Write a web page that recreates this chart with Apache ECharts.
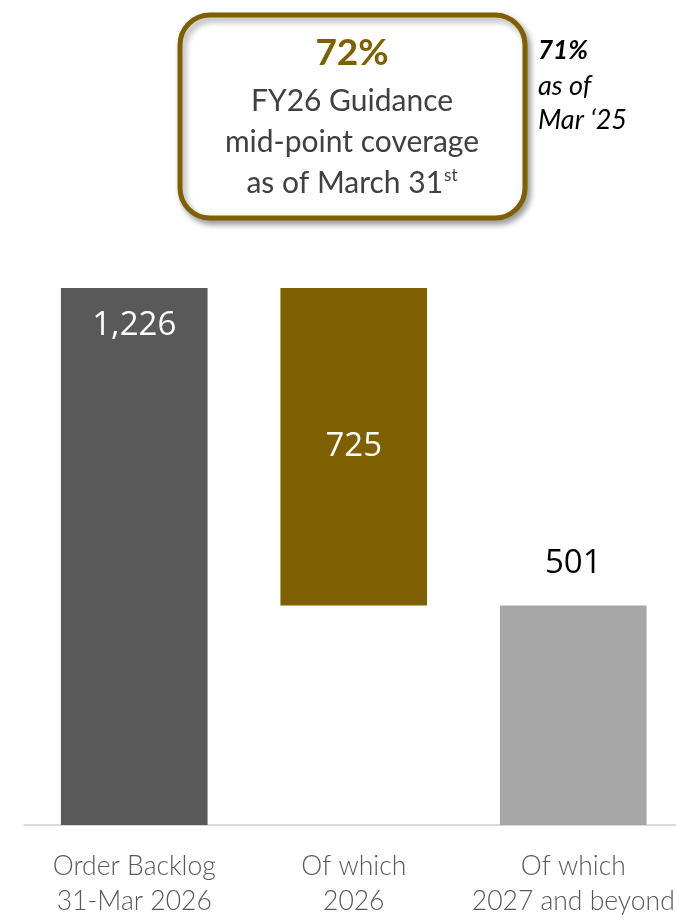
<!DOCTYPE html>
<html>
<head>
<meta charset="utf-8">
<style>
  html, body { margin: 0; padding: 0; background: #ffffff; }
  #chart { width: 676px; height: 920px; }
</style>
<script src="https://cdn.jsdelivr.net/npm/echarts@6/dist/echarts.min.js"></script>
</head>
<body>
<div id="chart"></div>
<script>
// ---- data ----
const categories = ['Order Backlog\n31-Mar 2026', 'Of which\n2026', 'Of which\n2027 and beyond'];
const barValues = [1226, 725, 501];
const barBases = [0, 501, 0];
const barColors = ['#595959', '#7F6000', '#A6A6A6'];
const coverageNow = '72%';
const coveragePrior = '71%';

const chart = echarts.init(document.getElementById('chart'), null, { renderer: 'canvas' });

const labelStyles = [
  { position: 'insideTop', distance: 21, color: '#ffffff' },
  { position: 'inside', color: '#ffffff' },
  { position: 'top', distance: 25, color: '#000000', fontWeight: 500 }
];

const option = {
  animation: false,
  backgroundColor: '#ffffff',
  grid: { left: 24.5, right: -7, top: 288, bottom: 95, containLabel: false, outerBoundsMode: 'none' },
  xAxis: {
    type: 'category',
    data: categories,
    axisLine: { show: true, lineStyle: { color: '#D9D9D9', width: 2 } },
    axisTick: { show: false },
    axisLabel: {
      color: '#595959', fontFamily: 'Lato', fontWeight: 300, fontSize: 26.5,
      lineHeight: 35, margin: 24, interval: 0
    }
  },
  yAxis: {
    type: 'value', min: 0, max: 1226, show: false,
    splitLine: { show: false }
  },
  series: [
    {
      type: 'bar', stack: 'w', silent: true,
      data: barBases,
      itemStyle: { color: 'transparent' },
      barWidth: '66.8%'
    },
    {
      type: 'bar', stack: 'w',
      barWidth: '66.8%',
      data: barValues.map((v, i) => ({
        value: v,
        itemStyle: { color: barColors[i] },
        label: Object.assign({
          show: true,
          fontFamily: 'Open Sans', fontSize: 33,
          formatter: (p) => p.value.toLocaleString('en-US')
        }, labelStyles[i])
      }))
    }
  ],
  graphic: [
    {
      type: 'rect',
      shape: { x: 180, y: 15, width: 345, height: 203, r: 30 },
      style: {
        fill: '#ffffff', stroke: '#7F6000', lineWidth: 5,
        shadowBlur: 6, shadowOffsetX: 3, shadowOffsetY: 4, shadowColor: 'rgba(0,0,0,0.35)'
      },
      z: 10
    },
    {
      type: 'text', x: 352, y: 53, z: 11,
      style: { text: coverageNow, fill: '#7F6000', font: 'bold 37px Lato', textAlign: 'center', textVerticalAlign: 'middle' }
    },
    {
      type: 'text', x: 352, y: 101, z: 11,
      style: { text: 'FY26 Guidance', fill: '#404040', font: '30px Lato', textAlign: 'center', textVerticalAlign: 'middle' }
    },
    {
      type: 'text', x: 352, y: 142, z: 11,
      style: { text: 'mid-point coverage', fill: '#404040', font: '30px Lato', textAlign: 'center', textVerticalAlign: 'middle' }
    },
    {
      type: 'text', x: 352, y: 183, z: 11,
      style: {
        text: '{m|as of March 31}{s|st}',
        textAlign: 'center', textVerticalAlign: 'middle',
        rich: {
          m: { fill: '#404040', fontFamily: 'Lato', fontSize: 30 },
          s: { fill: '#404040', fontFamily: 'Lato', fontSize: 17, padding: [0, 0, 15, 1] }
        }
      }
    },
    {
      type: 'text', x: 538, y: 51, z: 11,
      style: { text: coveragePrior, fill: '#000000', font: 'italic bold 26px Lato', textAlign: 'left', textVerticalAlign: 'middle' }
    },
    {
      type: 'text', x: 538, y: 86, z: 11,
      style: { text: 'as of', fill: '#000000', font: 'italic 27px Lato', textAlign: 'left', textVerticalAlign: 'middle' }
    },
    {
      type: 'text', x: 538, y: 120, z: 11,
      style: { text: 'Mar \u201825', fill: '#000000', font: 'italic 27px Lato', textAlign: 'left', textVerticalAlign: 'middle' }
    }
  ]
};

chart.setOption(option);
</script>
</body>
</html>
